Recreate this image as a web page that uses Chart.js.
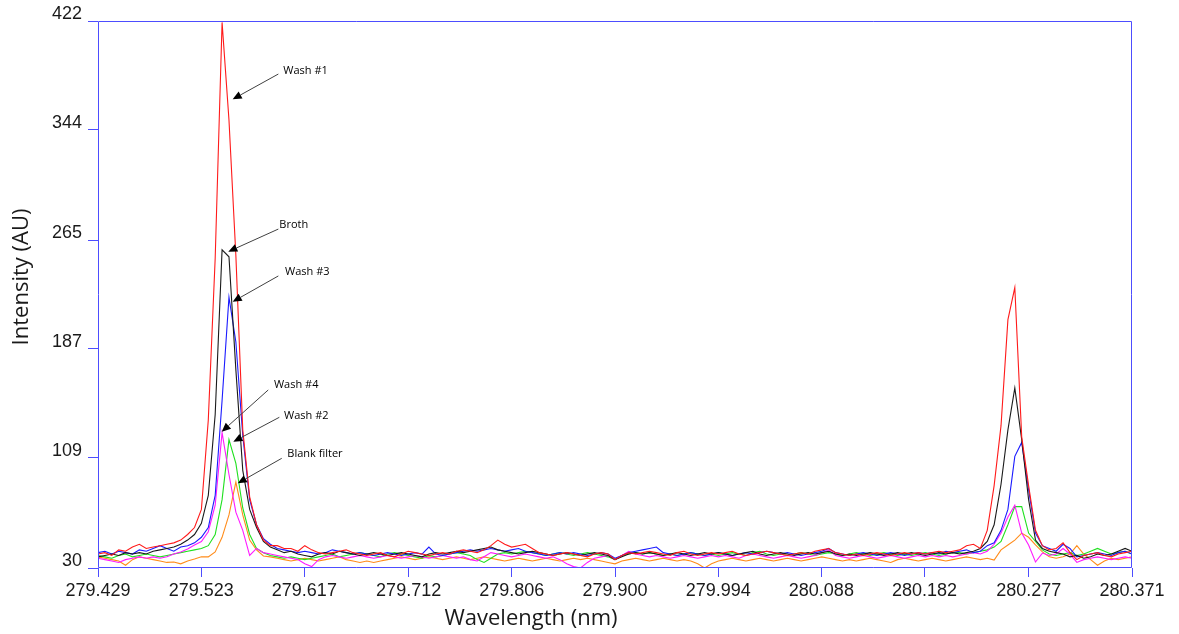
<!DOCTYPE html>
<html>
<head>
<meta charset="utf-8">
<script src="https://cdn.jsdelivr.net/npm/chart.js@4.4.1/dist/chart.umd.min.js"></script>
<style>
  html, body { margin: 0; padding: 0; background: #ffffff; }
  #wrap { width: 1179px; height: 634px; position: relative; }
</style>
</head>
<body>
<div id="wrap"><canvas id="spec" width="1179" height="634"></canvas></div>
<script>
// Wavelength grid of the spectrometer (nm), 151 pixels across the window
const WL_START = 279.429;
const WL_STEP = 0.00628;
const wavelengths = Array.from({ length: 151 }, (_, i) => +(WL_START + i * WL_STEP).toFixed(5));

// Intensity (AU) for each sample, one value per wavelength pixel
const wash1 = [
  40, 41, 39, 43, 42, 45, 47, 44, 45, 46,
  47, 48, 50, 54, 59, 72, 136, 252, 421, 351,
  254, 129, 81, 61, 50, 46, 46, 44, 44, 42,
  46, 43, 41, 40, 41, 42, 43, 41, 40, 39,
  40, 41, 39, 38, 40, 42, 41, 40, 39, 40,
  41, 40, 42, 43, 42, 41, 43, 46, 50, 47,
  45, 46, 47, 44, 41, 40, 39, 40, 41, 40,
  39, 38, 40, 41, 40, 36, 39, 41, 40, 41,
  42, 41, 40, 39, 41, 42, 40, 39, 40, 41,
  40, 41, 42, 40, 39, 40, 41, 42, 41, 40,
  39, 40, 41, 40, 42, 43, 44, 41, 40, 39,
  40, 39, 40, 41, 40, 39, 40, 41, 40, 41,
  40, 41, 42, 41, 42, 43, 46, 47, 44, 57,
  89, 132, 208, 231, 124, 89, 57, 46, 43, 44,
  48, 41, 36, 39, 40, 41, 39, 38, 40, 41,
  42
];
const broth = [
  38, 39, 40, 39, 41, 40, 41, 40, 42, 43,
  44, 45, 47, 50, 54, 62, 82, 140, 258, 253,
  172, 100, 72, 59, 49, 45, 43, 41, 42, 40,
  39, 38, 40, 41, 40, 42, 41, 40, 39, 40,
  41, 40, 39, 40, 41, 40, 39, 38, 40, 41,
  40, 41, 42, 41, 42, 43, 44, 45, 43, 42,
  41, 40, 41, 42, 41, 40, 39, 40, 41, 40,
  39, 40, 41, 40, 39, 36, 38, 40, 41, 40,
  41, 40, 39, 40, 41, 40, 39, 40, 41, 40,
  41, 40, 39, 40, 41, 42, 40, 39, 40, 41,
  40, 39, 40, 41, 40, 41, 42, 40, 39, 40,
  39, 40, 41, 40, 39, 40, 41, 40, 41, 40,
  39, 40, 41, 40, 41, 40, 41, 42, 44, 49,
  61, 90, 129, 159, 122, 79, 50, 44, 42, 41,
  40, 38, 39, 37, 38, 40, 39, 40, 42, 44,
  42
];
const wash3 = [
  41, 42, 40, 42, 41, 40, 43, 42, 44, 46,
  44, 42, 45, 46, 48, 52, 59, 82, 150, 224,
  192, 125, 79, 61, 51, 47, 44, 43, 42, 41,
  42, 41, 40, 41, 43, 42, 41, 40, 41, 40,
  39, 40, 41, 40, 39, 40, 41, 40, 45, 40,
  39, 40, 41, 42, 43, 42, 43, 44, 43, 42,
  43, 44, 42, 41, 40, 39, 40, 41, 40, 41,
  40, 39, 40, 41, 40, 37, 39, 41, 42, 43,
  44, 45, 41, 40, 39, 40, 41, 40, 39, 40,
  41, 40, 39, 40, 41, 40, 41, 42, 41, 40,
  41, 40, 39, 40, 41, 42, 44, 41, 40, 39,
  40, 41, 40, 39, 40, 41, 40, 39, 40, 41,
  40, 41, 40, 42, 41, 42, 43, 41, 42, 46,
  48, 57, 72, 110, 120, 86, 55, 46, 44, 42,
  47, 44, 38, 39, 40, 41, 40, 39, 41, 42,
  40
];
const wash4 = [
  37, 36, 35, 34, 36, 37, 38, 37, 38, 37,
  38, 40, 41.5, 43.6, 46.5, 49, 56, 75, 127, 97,
  70, 57, 39, 44, 41, 40, 39, 38, 37, 36,
  33, 31, 36, 38, 39, 38, 37, 38, 39, 38,
  37, 38, 39, 38, 37, 38, 39, 38, 37, 38,
  39, 38, 37, 38, 36, 35, 38, 41, 40, 39,
  38, 39, 40, 39, 38, 37, 38, 36, 33, 31,
  30, 34, 37, 38, 39, 36, 39, 42, 40, 39,
  38, 39, 38, 37, 38, 39, 38, 37, 38, 39,
  38, 39, 38, 37, 39, 40, 39, 38, 37, 38,
  39, 38, 37, 38, 39, 41, 43, 39, 38, 37,
  38, 39, 38, 37, 38, 39, 38, 37, 38, 39,
  38, 39, 38, 39, 38, 39, 40, 41, 40, 42,
  47, 55, 66.5, 75, 55, 46.5, 34.3, 40.7, 39, 40,
  44, 40, 34, 36, 37, 38, 37, 36, 37, 38,
  37
];
const wash2 = [
  39, 38, 37, 39, 40, 38, 39, 40, 39, 38,
  39, 40, 41, 42, 43, 44, 46, 54, 79, 122,
  105, 73, 54, 44, 41, 39, 38, 37, 38, 37,
  36, 37, 38, 39, 40, 38, 39, 40, 41, 40,
  39, 38, 40, 41, 40, 39, 38, 37, 39, 38,
  39, 40, 41, 40, 39, 36, 34, 37, 40, 41,
  40, 41, 42, 41, 40, 39, 40, 41, 40, 39,
  40, 41, 40, 39, 38, 36, 39, 40, 41, 40,
  41, 40, 39, 40, 39, 40, 41, 40, 39, 40,
  39, 40, 41, 40, 39, 41, 42, 40, 39, 40,
  39, 40, 41, 40, 39, 40, 41, 40, 39, 40,
  41, 40, 39, 40, 41, 40, 39, 40, 39, 40,
  41, 40, 39, 40, 41, 41, 40, 41, 42, 43,
  45, 49, 61, 74, 74, 55, 49, 43, 40, 39,
  40, 41, 39, 40, 42, 44, 42, 40, 41, 42,
  40
];
const blankFilter = [
  38, 37, 36, 35, 32, 36, 38, 37, 36, 35,
  34, 34.3, 33, 35, 36.4, 38, 38, 41.5, 52, 68,
  91.6, 68, 50, 43, 38.6, 38, 37, 36, 35, 36,
  37, 36, 35, 36, 37, 38, 36, 35, 34, 35,
  34, 35, 36, 37, 38, 37, 36, 37, 38, 37,
  36, 37, 38, 37, 36, 37, 38, 37, 36, 35,
  36, 37, 36, 35, 36, 37, 36, 35, 36, 37,
  36, 37, 36, 35, 34, 33, 35, 36, 37, 36,
  35, 36, 37, 36, 35, 36, 35, 33, 30, 33,
  35, 36, 37, 36, 35, 36, 37, 36, 35, 36,
  37, 36, 35, 36, 37, 38, 37, 36, 35, 36,
  35, 36, 37, 36, 35, 34, 36, 37, 36, 35,
  36, 37, 36, 35, 36, 37, 38, 37, 36, 37,
  35.7, 43, 46.5, 50, 55, 52, 46.5, 41.5, 38, 37,
  38, 40, 46, 40, 36, 32, 35, 37, 36, 37,
  38
];

// Axis ticks
const xTickValues = [279.429, 279.523, 279.617, 279.712, 279.806, 279.900, 279.994, 280.088, 280.182, 280.277, 280.371];
const xTickLabels = ['279.429', '279.523', '279.617', '279.712', '279.806', '279.900', '279.994', '280.088', '280.182', '280.277', '280.371'];
const yTickValues = [30, 109, 187, 265, 344, 422];
const yTickLabels = ['30', '109', '187', '265', '344', '422'];

// Sample names and line colours (drawn bottom to top)
const seriesNames = ['Blank filter', 'Wash #2', 'Wash #4', 'Wash #3', 'Broth', 'Wash #1'];
const seriesValues = [blankFilter, wash2, wash4, wash3, broth, wash1];
const seriesColors = ['#ff8c1a', '#1fe01f', '#ff1aff', '#1a1aff', '#1a1a1a', '#ff1a1a'];

// Callouts: text anchor, arrow tail and arrow tip, in (nm, AU)
const calloutText = ['Wash #1', 'Broth', 'Wash #3', 'Wash #4', 'Wash #2', 'Blank filter'];
const calloutTextAt = [[279.5978, 386.4], [279.5942, 275.8], [279.5994, 242.3], [279.5893, 161.1], [279.5985, 139.1], [279.6015, 111.5]];
const calloutTail = [[279.5933, 384.0], [279.5933, 272.9], [279.5933, 239.3], [279.5841, 157.6], [279.5942, 138.0], [279.5964, 108.6]];
const calloutTip = [[279.5517, 365.9], [279.5477, 256.7], [279.5517, 220.8], [279.5417, 127.7], [279.5523, 120.5], [279.5563, 90.7]];

const FRAME = '#4d4dff';
const TICK_FONT = { family: "'Liberation Sans', Arial, sans-serif", size: 18 };

const frameAndNotes = {
  id: 'frameAndNotes',
  afterDatasetsDraw(chart) {
    const { ctx, chartArea: a, scales: { x, y } } = chart;
    ctx.save();
    // plot frame
    ctx.strokeStyle = FRAME;
    ctx.lineWidth = 1;
    const l = Math.round(a.left) + 0.5, t = Math.round(a.top) + 0.5;
    const r = Math.round(a.right) - 0.5, b = Math.round(a.bottom) - 0.5;
    ctx.beginPath();
    ctx.moveTo(l, t); ctx.lineTo(r, t); ctx.lineTo(r, b); ctx.lineTo(l, b); ctx.closePath();
    ctx.stroke();

    // callout arrows and their labels
    ctx.font = "11px 'Open Sans', sans-serif";
    ctx.textAlign = 'left';
    ctx.textBaseline = 'middle';
    for (let i = 0; i < calloutText.length; i++) {
      const tx = x.getPixelForValue(calloutTail[i][0]), ty = y.getPixelForValue(calloutTail[i][1]);
      const hx = x.getPixelForValue(calloutTip[i][0]), hy = y.getPixelForValue(calloutTip[i][1]);
      const ang = Math.atan2(hy - ty, hx - tx);
      const len = 9, half = 4;
      const bx = hx - len * Math.cos(ang), by = hy - len * Math.sin(ang);
      ctx.strokeStyle = '#404040';
      ctx.lineWidth = 1;
      ctx.beginPath(); ctx.moveTo(tx, ty); ctx.lineTo(bx, by); ctx.stroke();
      ctx.fillStyle = '#000000';
      ctx.beginPath();
      ctx.moveTo(hx, hy);
      ctx.lineTo(bx + half * Math.sin(ang), by - half * Math.cos(ang));
      ctx.lineTo(bx - half * Math.sin(ang), by + half * Math.cos(ang));
      ctx.closePath(); ctx.fill();
      ctx.fillText(calloutText[i], x.getPixelForValue(calloutTextAt[i][0]), y.getPixelForValue(calloutTextAt[i][1]));
    }
    ctx.restore();
  },
  afterDraw(chart) {
    const { ctx } = chart;
    ctx.save();
    ctx.fillStyle = '#1a1a1a';
    ctx.font = "22px 'Open Sans', sans-serif";
    ctx.textAlign = 'center';
    ctx.textBaseline = 'middle';
    ctx.fillText('Wavelength (nm)', 531, 619);
    ctx.translate(22, 277);
    ctx.rotate(-Math.PI / 2);
    ctx.fillText('Intensity (AU)', 0, 0);
    ctx.restore();
  }
};

new Chart(document.getElementById('spec'), {
  type: 'line',
  data: {
    datasets: seriesValues.map((vals, i) => ({
      label: seriesNames[i],
      data: vals.map((v, k) => ({ x: wavelengths[k], y: v })),
      borderColor: seriesColors[i],
      borderWidth: 1.1,
      pointRadius: 0,
      tension: 0,
      fill: false,
      order: seriesValues.length - i
    }))
  },
  options: {
    responsive: false,
    devicePixelRatio: 1,
    animation: false,
    layout: { padding: { left: 0, top: 21, right: 47, bottom: 0 } },
    plugins: { legend: { display: false }, tooltip: { enabled: false } },
    scales: {
      x: {
        type: 'linear',
        min: 279.429,
        max: 280.371,
        border: { display: false },
        grid: { drawOnChartArea: false, drawTicks: true, tickLength: 9, color: FRAME, lineWidth: 1 },
        ticks: {
          font: TICK_FONT, color: '#1a1a1a', padding: 3, maxRotation: 0, autoSkip: false,
          callback: (v, i) => xTickLabels[i]
        },
        afterBuildTicks: (axis) => { axis.ticks = xTickValues.map(v => ({ value: v })); },
        afterFit: (axis) => { axis.height = 66; }
      },
      y: {
        type: 'linear',
        min: 30,
        max: 422,
        border: { display: false },
        grid: { drawOnChartArea: false, drawTicks: true, tickLength: 10, color: FRAME, lineWidth: 1 },
        ticks: {
          font: TICK_FONT, color: '#1a1a1a', padding: 6, labelOffset: -7, autoSkip: false,
          callback: (v, i) => yTickLabels[i]
        },
        afterBuildTicks: (axis) => { axis.ticks = yTickValues.map(v => ({ value: v })); },
        afterFit: (axis) => { axis.width = 98; }
      }
    }
  },
  plugins: [frameAndNotes]
});
</script>
</body>
</html>
